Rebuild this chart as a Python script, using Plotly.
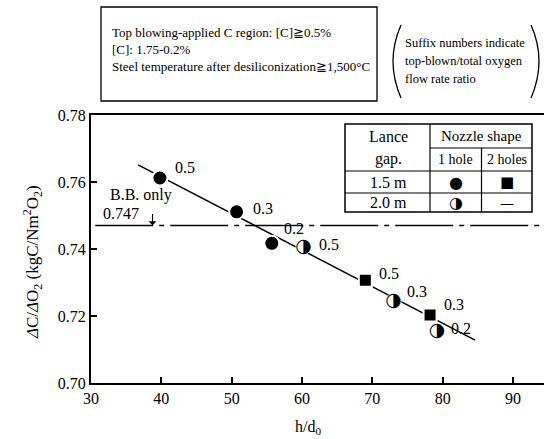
import plotly.graph_objects as go

# ---------------- data ----------------
circle_x = [39.8, 50.7, 55.7]          # 1.5 m, 1 hole
circle_y = [0.7612, 0.7511, 0.7417]
circle_lab = ["0.5", "0.3", "0.2"]

square_x = [69.0, 78.2]                # 1.5 m, 2 holes
square_y = [0.7307, 0.7203]
square_lab = ["0.5", "0.3"]

half_x = [60.2, 73.0, 79.2]            # 2.0 m, 1 hole
half_y = [0.7406, 0.7243, 0.7153]
half_lab = ["0.5", "0.3", "0.2"]

fit_x = [36.7, 84.6]                   # regression line
fit_y = [0.7651, 0.7128]

bb_only = 0.747
x_ticks = [30, 40, 50, 60, 70, 80, 90]
y_ticks = [0.70, 0.72, 0.74, 0.76, 0.78]

# ---------------- layout geometry ----------------
W, H = 544, 439
L, R, T, B = 91, 0, 115, 56
PW, PH = W - L - R, H - T - B
SERIF = "Liberation Serif"


def px(x):
    return (x - L) / PW


def py(y):
    return (H - B - y) / PH


fig = go.Figure()

# regression line
fig.add_trace(go.Scatter(x=fit_x, y=fit_y, mode="lines",
                         line=dict(color="black", width=1.5),
                         showlegend=False, hoverinfo="skip"))

# B.B. only line
fig.add_trace(go.Scatter(x=[30.6, 94.4], y=[bb_only, bb_only], mode="lines",
                         line=dict(color="black", width=1.4, dash="58px,6px,5px,6px"),
                         showlegend=False, hoverinfo="skip"))

# filled circles
fig.add_trace(go.Scatter(x=circle_x, y=circle_y, mode="markers",
                         marker=dict(symbol="circle", size=15, color="black",
                                     line=dict(color="white", width=2)),
                         showlegend=False))
# squares
fig.add_trace(go.Scatter(x=square_x, y=square_y, mode="markers",
                         marker=dict(symbol="square", size=13, color="black",
                                     line=dict(color="white", width=2)),
                         showlegend=False))
# half-filled circles: white backing + glyph
fig.add_trace(go.Scatter(x=half_x, y=half_y, mode="markers",
                         marker=dict(symbol="circle", size=16, color="white"),
                         showlegend=False, hoverinfo="skip"))
fig.add_trace(go.Scatter(x=half_x, y=half_y, mode="text", text=["◑"] * len(half_x),
                         textposition="middle center",
                         textfont=dict(family="DejaVu Sans", size=19, color="black"),
                         showlegend=False))

# point labels (offsets in pixels)
def add_labels(xs, ys, labs, offs):
    for x, y, t, (dx, dy) in zip(xs, ys, labs, offs):
        fig.add_annotation(x=x, y=y, text=t, showarrow=False, xshift=dx, yshift=dy,
                           font=dict(family=SERIF, size=16, color="black"))


add_labels(circle_x, circle_y, circle_lab, [(25, 10), (26, 3), (22, 15)])
add_labels(square_x, square_y, square_lab, [(24, 7), (24, 10)])
add_labels(half_x, half_y, half_lab, [(26, 2), (24, 10), (24, 3)])

# B.B. only annotation
fig.add_annotation(x=37.1, y=0.7561, text="B.B. only", showarrow=False,
                   font=dict(family=SERIF, size=16, color="black"))
fig.add_annotation(x=34.3, y=0.7507, text="0.747", showarrow=False,
                   font=dict(family=SERIF, size=16, color="black"))
fig.add_annotation(x=38.75, y=bb_only + 0.0001, ax=38.75, ay=0.7509,
                   xref="x", yref="y", axref="x", ayref="y", text="",
                   showarrow=True, arrowhead=1, arrowsize=1.2, arrowwidth=1.1,
                   arrowcolor="black")

shapes = []

# ---------------- table ----------------
tl, tc1, tc2, tr = 345, 430, 481.5, 532
tt, th1, th2, th3, tb = 124, 148, 171, 193, 212
shapes.append(dict(type="rect", xref="paper", yref="paper",
                   x0=px(tl), x1=px(tr), y0=py(tb), y1=py(tt),
                   line=dict(color="black", width=1.5), fillcolor="white", layer="above"))
for x0, x1, y in [(tc1, tr, th1), (tl, tr, th2), (tl, tr, th3)]:
    shapes.append(dict(type="line", xref="paper", yref="paper",
                       x0=px(x0), x1=px(x1), y0=py(y), y1=py(y),
                       line=dict(color="black", width=1.2)))
shapes.append(dict(type="line", xref="paper", yref="paper",
                   x0=px(tc1), x1=px(tc1), y0=py(tb), y1=py(tt),
                   line=dict(color="black", width=1.2)))
shapes.append(dict(type="line", xref="paper", yref="paper",
                   x0=px(tc2), x1=px(tc2), y0=py(tb), y1=py(th1),
                   line=dict(color="black", width=1.2)))

table_cells = [
    ("Lance", 388, 136, SERIF, 16), ("gap.", 388, 159, SERIF, 16),
    ("Nozzle shape", 481, 136, SERIF, 15),
    ("1 hole", 455.5, 159.5, SERIF, 14), ("2 holes", 507, 159.5, SERIF, 14),
    ("1.5 m", 388, 182, SERIF, 16), ("2.0 m", 388, 202.5, SERIF, 16),
    ("●", 455.5, 182, "DejaVu Sans", 16), ("■", 507, 182, "DejaVu Sans", 15),
    ("◑", 455.5, 202.5, "DejaVu Sans", 16), ("—", 507, 202.5, "DejaVu Sans", 14),
]
for t, x, y, f, s in table_cells:
    fig.add_annotation(xref="paper", yref="paper", x=px(x), y=py(y), text=t,
                       showarrow=False, xanchor="center", yanchor="middle",
                       font=dict(family=f, size=s, color="black"))

# ---------------- top boxes ----------------
shapes.append(dict(type="rect", xref="paper", yref="paper",
                   x0=px(101), x1=px(377), y0=py(101), y1=py(7),
                   line=dict(color="black", width=1.3)))
box1 = ["Top blowing-applied C region: [C]≧0.5%",
        "[C]: 1.75-0.2%",
        "Steel temperature after desiliconization≧1,500°C"]
for t, y in zip(box1, [33, 50, 67]):
    fig.add_annotation(xref="paper", yref="paper", x=px(110), y=py(y), text=t,
                       showarrow=False, xanchor="left", yanchor="middle",
                       font=dict(family=SERIF, size=13, color="black"))

box2 = ["Suffix numbers indicate", "top-blown/total oxygen", "flow rate ratio"]
for t, y in zip(box2, [43, 61, 79]):
    fig.add_annotation(xref="paper", yref="paper", x=px(403), y=py(y), text=t,
                       showarrow=False, xanchor="left", yanchor="middle",
                       font=dict(family=SERIF, size=12.5, color="black"))
# parentheses
shapes.append(dict(type="path", xref="paper", yref="paper",
                   path=f"M {px(401)},{py(25)} Q {px(385)},{py(61)} {px(401)},{py(98)}",
                   line=dict(color="black", width=1.3)))
shapes.append(dict(type="path", xref="paper", yref="paper",
                   path=f"M {px(531)},{py(25)} Q {px(547)},{py(61)} {px(531)},{py(98)}",
                   line=dict(color="black", width=1.3)))

# axis titles
fig.add_annotation(xref="paper", yref="paper", x=px(32), y=py(262),
                   xanchor="center", yanchor="middle",
                   text="<i>Δ</i>C/<i>Δ</i>O<sub>2</sub> (kgC/Nm<sup>2</sup>O<sub>2</sub>)",
                   textangle=-90, showarrow=False,
                   font=dict(family=SERIF, size=17, color="black"))
fig.add_annotation(xref="paper", yref="paper", x=px(308), y=py(427),
                   xanchor="center", yanchor="middle",
                   text="h/d<sub>0</sub>", showarrow=False,
                   font=dict(family=SERIF, size=16, color="black"))

fig.update_layout(
    width=W, height=H, margin=dict(l=L, r=R, t=T, b=B),
    paper_bgcolor="white", plot_bgcolor="white",
    shapes=shapes, showlegend=False,
    font=dict(family=SERIF, size=16, color="black"),
)
fig.update_xaxes(range=[30, 94.4], tickvals=x_ticks, ticktext=[str(v) for v in x_ticks],
                 ticks="inside", ticklen=6, tickwidth=1.5, tickcolor="black",
                 showline=True, linecolor="black", linewidth=2, mirror=True,
                 showgrid=False, zeroline=False,
                 tickfont=dict(family=SERIF, size=16, color="black"))
fig.update_yaxes(range=[0.70, 0.78], tickvals=y_ticks,
                 ticktext=[f"{v:.2f}" for v in y_ticks],
                 ticks="inside", ticklen=6, tickwidth=1.5, tickcolor="black",
                 showline=True, linecolor="black", linewidth=2,
                 showgrid=False, zeroline=False,
                 tickfont=dict(family=SERIF, size=16, color="black"))

fig.write_html("out.html", config={"displayModeBar": False},
               post_script="document.body.style.margin='0px';document.body.style.overflow='hidden';")
